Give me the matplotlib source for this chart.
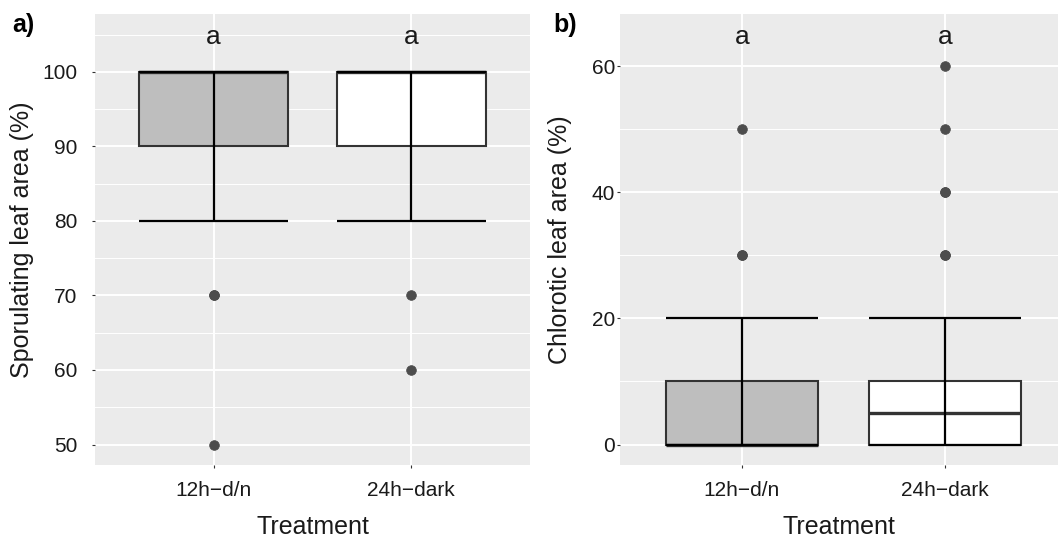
import matplotlib
matplotlib.use("Agg")
import matplotlib.pyplot as plt
from matplotlib.ticker import MultipleLocator

plt.rcParams["font.family"] = ["Liberation Sans", "DejaVu Sans"]

treatments = ["12h\u2212d/n", "24h\u2212dark"]
fills = ["#BEBEBE", "#FFFFFF"]
letters = ["a", "a"]

# panel a: sporulating leaf area (%)
spor_q1 = [90, 90]
spor_med = [100, 100]
spor_q3 = [100, 100]
spor_lo = [80, 80]
spor_hi = [100, 100]
spor_out = [[70, 70, 50], [70, 60]]
spor_letter_y = 105

# panel b: chlorotic leaf area (%)
chl_q1 = [0, 0]
chl_med = [0, 5]
chl_q3 = [10, 10]
chl_lo = [0, 0]
chl_hi = [20, 20]
chl_out = [[30, 30, 50], [30, 30, 40, 40, 50, 60]]
chl_letter_y = 65

BG = "#EBEBEB"
BOXC = "#333333"
W = 0.75


def draw_panel(ax, q1, med, q3, lo, hi, out, letter_y, ylabel, major, minor, ylim, xlim,
               ypad, ylabelpad):
    pos = [1, 2]
    stats = []
    for i in range(2):
        stats.append(dict(q1=q1[i], med=med[i], q3=q3[i], whislo=lo[i],
                          whishi=hi[i], fliers=out[i], label=treatments[i]))
    bp = ax.bxp(stats, positions=pos, widths=W, patch_artist=True,
                showcaps=False, manage_ticks=False,
                boxprops=dict(edgecolor=BOXC, linewidth=1.5),
                medianprops=dict(color=BOXC, linewidth=2.4, solid_capstyle="butt"),
                whiskerprops=dict(linewidth=0),
                flierprops=dict(marker="o", markersize=7, markerfacecolor="#4D4D4D",
                                markeredgecolor="#4D4D4D", markeredgewidth=0.5))
    for patch, c in zip(bp["boxes"], fills):
        patch.set_facecolor(c)
    # errorbar drawn through the box
    ax.vlines(pos, lo, hi, color="black", linewidth=1.6, zorder=4)
    for p, l, h in zip(pos, lo, hi):
        ax.hlines([l, h], p - W / 2, p + W / 2, color="black", linewidth=1.6, zorder=4)
    for p, t in zip(pos, letters):
        ax.annotate(t, (p, letter_y), xytext=(0, -9), textcoords="offset pixels",
                    ha="center", va="baseline", fontsize=19, color="#1A1A1A")

    ax.set_facecolor(BG)
    ax.set_xlim(*xlim)
    ax.set_ylim(*ylim)
    ax.set_xticks(pos)
    ax.set_xticklabels(treatments)
    ax.yaxis.set_major_locator(MultipleLocator(major))
    ax.yaxis.set_minor_locator(MultipleLocator(minor))
    ax.grid(which="major", color="white", linewidth=1.4)
    ax.grid(which="minor", axis="y", color="white", linewidth=0.7)
    ax.set_axisbelow(True)
    for s in ax.spines.values():
        s.set_visible(False)
    ax.tick_params(which="major", length=2.5, width=0.8, color="#333333",
                   labelsize=15, labelcolor="#1A1A1A")
    ax.tick_params(axis="x", pad=9)
    ax.tick_params(axis="y", pad=ypad)
    ax.tick_params(which="minor", length=0)
    ax.set_xlabel("Treatment", fontsize=18, color="#1A1A1A", labelpad=11)
    ax.set_ylabel(ylabel, fontsize=18, color="#1A1A1A", labelpad=ylabelpad)


fig = plt.figure(figsize=(10.58, 5.39), dpi=100)
ax1 = fig.add_axes([95 / 1058, 74 / 539, 435 / 1058, 451 / 539])
ax2 = fig.add_axes([620 / 1058, 74 / 539, 438 / 1058, 451 / 539])

draw_panel(ax1, spor_q1, spor_med, spor_q3, spor_lo, spor_hi, spor_out, spor_letter_y,
           "Sporulating leaf area (%)", 10, 5, (47.25, 107.75), (0.4, 2.6), 10, 6)
draw_panel(ax2, chl_q1, chl_med, chl_q3, chl_lo, chl_hi, chl_out, chl_letter_y,
           "Chlorotic leaf area (%)", 20, 10, (-3.25, 68.25), (0.4, 0.4 + 438 / 203), 1, 14)

fig.text(12 / 1058, 1 - 25 / 539, "a)", fontsize=18, fontweight="bold", va="center", ha="left")
fig.text(553 / 1058, 1 - 25 / 539, "b)", fontsize=18, fontweight="bold", va="center", ha="left")

fig.savefig("out.png", dpi=100)
